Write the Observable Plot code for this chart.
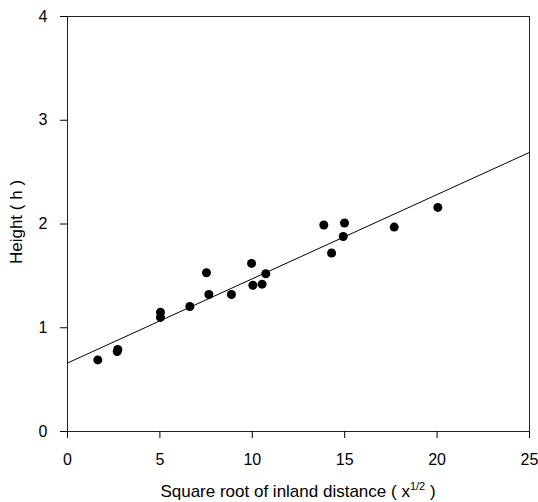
<!DOCTYPE html>
<html>
<head>
<meta charset="utf-8">
<script src="https://cdn.jsdelivr.net/npm/d3@7"></script>
<script src="https://cdn.jsdelivr.net/npm/@observablehq/plot@0.6"></script>
<style>
  html, body { margin: 0; padding: 0; background: #fff; }
  #chart { width: 538px; height: 502px; }
</style>
</head>
<body>
<div id="chart"></div>
<script>
// Observed points: square root of inland distance vs height
const xs = [1.64, 2.69, 2.72, 5.03, 5.03, 6.62, 7.52, 7.65, 8.87, 9.96, 10.03, 10.53, 10.73, 13.87, 14.29, 14.92, 14.99, 17.68, 20.04];
const hs = [0.69, 0.77, 0.79, 1.10, 1.15, 1.205, 1.53, 1.32, 1.32, 1.62, 1.41, 1.42, 1.52, 1.99, 1.72, 1.88, 2.01, 1.97, 2.16];

// Fitted line end points
const fitX = [0, 25];
const fitY = [0.66, 2.69];

const xTicks = [0, 5, 10, 15, 20, 25];
const yTicks = [0, 1, 2, 3, 4];

const xTitle = "Square root of inland distance ( x";
const xTitleSup = "1/2";
const xTitleEnd = " )";
const yTitle = "Height ( h )";

const points = xs.map((x, i) => ({x, h: hs[i]}));
const fit = fitX.map((x, i) => ({x, h: fitY[i]}));

const W = 538, H = 502;
const mL = 67, mR = 9, mT = 16, mB = 71;
const FONT = "'Liberation Sans', Arial, sans-serif";

const chart = Plot.plot({
  width: W,
  height: H,
  marginLeft: mL,
  marginRight: mR,
  marginTop: mT,
  marginBottom: mB,
  style: {fontFamily: FONT, fontSize: "16px", color: "black", background: "white"},
  x: {domain: [0, 25]},
  y: {domain: [0, 4]},
  marks: [
    Plot.frame({stroke: "#222", strokeWidth: 1}),
    Plot.axisX({ticks: xTicks, tickFormat: "d", tickSize: 7, tickPadding: 15, label: null, fontSize: 16, stroke: "black"}),
    Plot.axisY({ticks: yTicks, tickFormat: "d", tickSize: 7, tickPadding: 13, label: null, fontSize: 16, stroke: "black"}),
    Plot.line(fit, {x: "x", y: "h", stroke: "black", strokeWidth: 1}),
    Plot.dot(points, {x: "x", y: "h", r: 4.5, fill: "black", stroke: "none"})
  ]
});

document.getElementById("chart").appendChild(chart);

const svg = d3.select(chart);
const xScale = chart.scale("x");
const cx = (xScale.range[0] + xScale.range[1]) / 2;
const t = svg.append("text")
  .attr("x", cx)
  .attr("y", 497)
  .attr("text-anchor", "middle")
  .attr("font-family", FONT)
  .attr("font-size", 17)
  .attr("fill", "black");
t.append("tspan").text(xTitle);
t.append("tspan").attr("dy", -7).attr("font-size", 11).text(xTitleSup);
t.append("tspan").attr("dy", 7).text(xTitleEnd);

svg.append("text")
  .attr("transform", "translate(22,222) rotate(-90)")
  .attr("text-anchor", "middle")
  .attr("font-family", FONT)
  .attr("font-size", 17)
  .attr("fill", "black")
  .text(yTitle);
</script>
</body>
</html>
